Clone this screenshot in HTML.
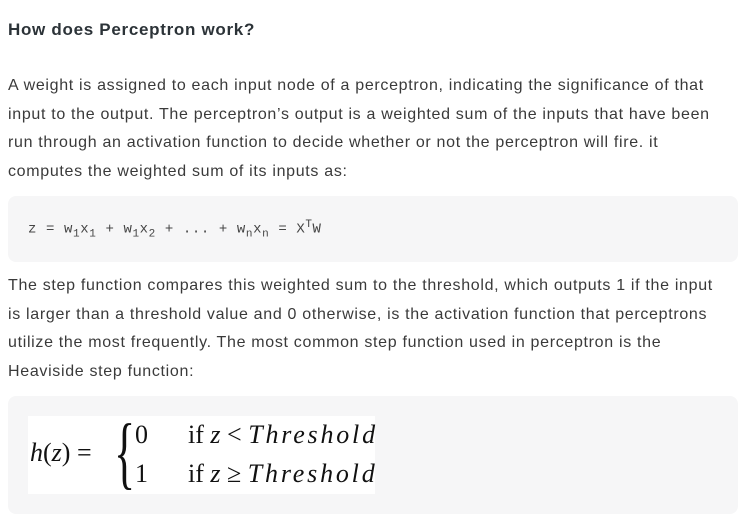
<!DOCTYPE html>
<html><head><meta charset="utf-8"><style>
body{margin:0;width:753px;height:530px;background:#fff;font-family:"Liberation Sans",sans-serif;color:#333;position:relative;overflow:hidden}
.t{position:absolute;left:8px;top:20px;font-size:17px;letter-spacing:0.7px;font-weight:bold;color:#2c3338;white-space:nowrap}
.p{position:absolute;left:8px;font-size:16px;letter-spacing:0.68px;line-height:28.5px;white-space:nowrap;color:#3a3a3a}
.box{position:absolute;left:8px;width:730px;background:#f6f6f7;border-radius:8px}
.code{font-family:"Liberation Mono",monospace;font-size:14px;letter-spacing:0.6px;color:#444;position:absolute;left:20px;top:23px;white-space:nowrap}
.f{position:absolute;left:20px;top:20px;width:347px;height:78px;background:#fff;font-family:"Liberation Serif",serif;font-size:26px;color:#111}
.f span{position:absolute;white-space:nowrap}
</style></head><body>
<div class="t">How does Perceptron work?</div>
<div class="p" style="top:72px">A weight is assigned to each input node of a perceptron, indicating the significance of that<br>input to the output. The perceptron’s output is a weighted sum of the inputs that have been<br>run through an activation function to decide whether or not the perceptron will fire. it<br>computes the weighted sum of its inputs as:</div>
<div class="box" style="top:196px;height:66px"><div class="code">z = w<sub style="font-size:11px">1</sub>x<sub style="font-size:11px">1</sub> + w<sub style="font-size:11px">1</sub>x<sub style="font-size:11px">2</sub> + ... + w<sub style="font-size:11px">n</sub>x<sub style="font-size:11px">n</sub> = X<sup style="font-size:11px">T</sup>W</div></div>
<div class="p" style="top:272px">The step function compares this weighted sum to the threshold, which outputs 1 if the input<br>is larger than a threshold value and 0 otherwise, is the activation function that perceptrons<br>utilize the most frequently. The most common step function used in perceptron is the<br>Heaviside step function:</div>
<div class="box" style="top:396px;height:118px"><div class="f">
<span style="left:2px;top:22px"><i>h</i>(<i>z</i>) =</span>
<span style="left:86px;top:-8px;font-size:80px;line-height:90px;transform:scaleX(0.55);transform-origin:left;font-weight:100">{</span>
<span style="left:107px;top:4px">0</span>
<span style="left:107px;top:43px">1</span>
<span style="left:160px;top:4px">if <i>z</i> &lt; <i style="letter-spacing:2.8px">Threshold</i></span>
<span style="left:160px;top:43px">if <i>z</i> ≥ <i style="letter-spacing:2.8px">Threshold</i></span>
</div></div>
</body></html>
